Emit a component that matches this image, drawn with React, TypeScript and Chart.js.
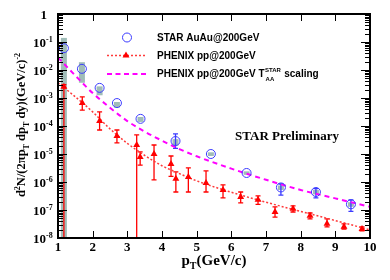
import React, { useEffect, useRef } from "react";
import { Chart, registerables } from "chart.js";
Chart.register(...registerables);

// ---------- STAR AuAu@200GeV ----------
const starPt = [1.17, 1.69, 2.2, 2.7, 3.38, 4.39, 5.41, 6.44, 7.43, 8.44, 9.45];
const starVal = [0.06, 0.011, 2.3e-3, 6.6e-4, 1.8e-4, 2.9e-5, 1e-5, 2.1e-6, 6.4e-7, 4.4e-7, 1.6e-7];
const starSysHigh = [0.14, 0.019, 2.6e-3, 7.2e-4, 2.1e-4, 3.4e-5, 1.15e-5, 2.4e-6, 7.5e-7, 5.2e-7, 1.9e-7];
const starSysLow = [1e-8, 3.5e-3, 1.25e-3, 4.6e-4, 1.4e-4, 2.0e-5, 8.5e-6, 1.8e-6, 5.2e-7, 3.6e-7, 1.3e-7];
const starStatHigh = [0.06, 0.011, 2.3e-3, 6.6e-4, 1.8e-4, 5.2e-5, 1e-5, 2.1e-6, 8.5e-7, 5.8e-7, 2.3e-7];
const starStatLow = [0.06, 0.011, 2.3e-3, 6.6e-4, 1.8e-4, 1.6e-5, 1e-5, 2.1e-6, 3.4e-7, 2.7e-7, 9e-8];

// ---------- PHENIX pp@200GeV ----------
const phxPt = [1.17, 1.7, 2.2, 2.7, 3.27, 3.37, 3.77, 4.26, 4.4, 4.76, 5.27, 5.76, 6.27, 6.77, 7.26, 7.78, 8.27, 8.76, 9.25, 9.77];
const phxVal = [2.5e-3, 6.6e-4, 1.5e-4, 4.4e-5, 2.1e-5, 7.8e-6, 1e-5, 4.4e-6, 1.3e-6, 1.5e-6, 9.3e-7, 5.2e-7, 2.9e-7, 2.3e-7, 8.5e-8, 1.1e-7, 6.2e-8, 3.2e-8, 2.5e-8, 2.1e-8];
const phxHigh = [3e-3, 1.1e-3, 3.2e-4, 7.2e-5, 4.8e-5, 1.2e-5, 2.1e-5, 8.5e-6, 2.3e-6, 3.2e-6, 2.5e-6, 7.9e-7, 4.4e-7, 3.2e-7, 1.3e-7, 1.4e-7, 7.8e-8, 4.8e-8, 3.2e-8, 2.5e-8];
const phxLow = [1e-8, 3.7e-4, 7.2e-5, 2.5e-5, 1e-8, 4e-6, 1.2e-6, 1.6e-6, 4.4e-7, 4.4e-7, 4.4e-7, 2.7e-7, 1.8e-7, 1.6e-7, 5.6e-8, 8.5e-8, 4.8e-8, 2.5e-8, 2.1e-8, 1.8e-8];

// ---------- fit curves ----------
const fitX = [1, 1.5, 2, 2.5, 3, 3.5, 4, 4.5, 5, 6, 7, 8, 9, 10];
const phxFit = [3.5e-3, 1.1e-3, 3.2e-4, 7.9e-5, 2.4e-5, 8.9e-6, 3.8e-6, 2.0e-6, 1.1e-6, 4.3e-7, 1.9e-7, 8.9e-8, 4.2e-8, 1.95e-8];
const taaFit = [2.8e-2, 6.3e-3, 1.5e-3, 4.5e-4, 1.5e-4, 6.3e-5, 3.0e-5, 1.5e-5, 8.3e-6, 3.0e-6, 1.2e-6, 5.2e-7, 2.6e-7, 1.3e-7];

// ---------- axes ----------
const xTicks = [1, 2, 3, 4, 5, 6, 7, 8, 9, 10];
const yTickValues = [1, 1e-1, 1e-2, 1e-3, 1e-4, 1e-5, 1e-6, 1e-7, 1e-8];
const yTickBase = ["1", "10", "10", "10", "10", "10", "10", "10", "10"];
const yTickExp = ["", "-1", "-2", "-3", "-4", "-5", "-6", "-7", "-8"];
const legendLabels = ["STAR AuAu@200GeV", "PHENIX pp@200GeV", "PHENIX pp@200GeV T"];

const SERIF = "'Liberation Serif', 'Times New Roman', serif";
const SANS = "'Liberation Sans', Arial, Helvetica, sans-serif";
const BLUE = "#3b3bff";
const RED = "#ff0000";
const REDFIT = "#ff3a3a";
const MAGENTA = "#ff00ff";
const GRAY = "rgba(150,182,176,0.9)";

type Part = [string, number, number, string?];

function drawParts(ctx: CanvasRenderingContext2D, parts: Part[], x: number, y: number, align: string) {
  let total = 0;
  const widths: number[] = [];
  for (const p of parts) {
    ctx.font = `bold ${p[1]}px ${p[3] || SERIF}`;
    const w = ctx.measureText(p[0]).width;
    widths.push(w);
    total += w;
  }
  let cx = align === "center" ? x - total / 2 : align === "right" ? x - total : x;
  ctx.textAlign = "left";
  ctx.textBaseline = "alphabetic";
  parts.forEach((p, i) => {
    ctx.font = `bold ${p[1]}px ${p[3] || SERIF}`;
    ctx.fillText(p[0], cx, y + p[2]);
    cx += widths[i];
  });
}

const decorPlugin = {
  id: "decor",
  beforeDatasetsDraw(chart: any) {
    const { ctx, chartArea: a } = chart;
    const xs = chart.scales.x;
    const ys = chart.scales.y;
    ctx.save();
    ctx.beginPath();
    ctx.rect(a.left, a.top, a.right - a.left, a.bottom - a.top);
    ctx.clip();
    ctx.fillStyle = GRAY;
    starPt.forEach((p, i) => {
      const X = xs.getPixelForValue(p);
      const y1 = ys.getPixelForValue(starSysHigh[i]);
      const y2 = ys.getPixelForValue(starSysLow[i]);
      ctx.fillRect(X - 3, y1, 6, y2 - y1);
    });
    const bar = (X: number, y1: number, y2: number, color: string, w: number) => {
      if (Math.abs(y2 - y1) < 0.5) return;
      ctx.strokeStyle = color;
      ctx.lineWidth = w;
      ctx.beginPath();
      ctx.moveTo(X, y1);
      ctx.lineTo(X, y2);
      ctx.moveTo(X - 2.5, y1);
      ctx.lineTo(X + 2.5, y1);
      ctx.moveTo(X - 2.5, y2);
      ctx.lineTo(X + 2.5, y2);
      ctx.stroke();
    };
    starPt.forEach((p, i) => {
      bar(xs.getPixelForValue(p), ys.getPixelForValue(starStatHigh[i]), ys.getPixelForValue(starStatLow[i]), BLUE, 1.3);
    });
    phxPt.forEach((p, i) => {
      bar(xs.getPixelForValue(p), ys.getPixelForValue(phxHigh[i]), ys.getPixelForValue(phxLow[i]), RED, 1.3);
    });
    ctx.restore();
  },
  afterDraw(chart: any) {
    const { ctx, chartArea: a } = chart;
    const xs = chart.scales.x;
    const ys = chart.scales.y;
    ctx.save();
    ctx.fillStyle = "#000";
    ctx.strokeStyle = "#000";
    ctx.lineWidth = 1;
    ctx.beginPath();
    xTicks.forEach((t) => {
      const X = Math.round(xs.getPixelForValue(t)) + 0.5;
      ctx.moveTo(X, a.bottom);
      ctx.lineTo(X, a.bottom - 7);
      ctx.moveTo(X, a.top);
      ctx.lineTo(X, a.top + 7);
    });
    yTickValues.forEach((v, i) => {
      const Y = Math.round(ys.getPixelForValue(v)) + 0.5;
      ctx.moveTo(a.left, Y);
      ctx.lineTo(a.left + 9, Y);
      ctx.moveTo(a.right, Y);
      ctx.lineTo(a.right - 9, Y);
      if (i < yTickValues.length - 1) {
        for (let k = 2; k <= 9; k++) {
          const Ym = Math.round(ys.getPixelForValue(yTickValues[i + 1] * k)) + 0.5;
          ctx.moveTo(a.left, Ym);
          ctx.lineTo(a.left + 5, Ym);
          ctx.moveTo(a.right, Ym);
          ctx.lineTo(a.right - 5, Ym);
        }
      }
    });
    ctx.stroke();
    ctx.lineWidth = 2;
    ctx.strokeRect(a.left, a.top, a.right - a.left, a.bottom - a.top);

    xTicks.forEach((t) => {
      drawParts(ctx, [[String(t), 13, 0]], xs.getPixelForValue(t), a.bottom + 13, "center");
    });
    yTickValues.forEach((v, i) => {
      const Y = ys.getPixelForValue(v);
      if (yTickExp[i] === "") {
        drawParts(ctx, [[yTickBase[i], 13, 0]], 47, Y + 5, "right");
      } else {
        drawParts(ctx, [[yTickBase[i], 13, 0], [yTickExp[i], 8, -5]], 33, Y + 5, "left");
      }
    });
    drawParts(ctx, [["p", 15, 0], ["T", 10, 4], ["(GeV/c)", 15, 0]], 214, a.bottom + 27, "center");
    ctx.save();
    ctx.translate(25, (a.top + a.bottom) / 2 - 1);
    ctx.rotate(-Math.PI / 2);
    drawParts(
      ctx,
      [
        ["d", 12.5, 0],
        ["2", 8, -5],
        ["N/(2\u03c0p", 12.5, 0],
        ["T", 8, 3.5],
        [" dp", 12.5, 0],
        ["T", 8, 3.5],
        [" dy)(GeV/c)", 12.5, 0],
        ["-2", 8, -5],
      ],
      0,
      0,
      "center"
    );
    ctx.restore();

    drawParts(ctx, [["STAR Preliminary", 13, 0]], 287, 140, "center");

    // legend
    ctx.strokeStyle = BLUE;
    ctx.lineWidth = 1;
    ctx.beginPath();
    ctx.arc(127, 37.5, 4.5, 0, Math.PI * 2);
    ctx.stroke();
    ctx.strokeStyle = REDFIT;
    ctx.lineWidth = 1.4;
    ctx.setLineDash([2, 2]);
    ctx.beginPath();
    ctx.moveTo(107, 55.5);
    ctx.lineTo(146, 55.5);
    ctx.stroke();
    ctx.setLineDash([]);
    ctx.fillStyle = RED;
    ctx.beginPath();
    ctx.moveTo(126, 51.5);
    ctx.lineTo(129.5, 57.5);
    ctx.lineTo(122.5, 57.5);
    ctx.closePath();
    ctx.fill();
    ctx.strokeStyle = MAGENTA;
    ctx.lineWidth = 2;
    ctx.setLineDash([5, 3.5]);
    ctx.beginPath();
    ctx.moveTo(107, 74);
    ctx.lineTo(147, 74);
    ctx.stroke();
    ctx.setLineDash([]);
    ctx.fillStyle = "#000";
    drawParts(ctx, [[legendLabels[0], 10, 0, SANS]], 157, 41, "left");
    drawParts(ctx, [[legendLabels[1], 10, 0, SANS]], 157, 59, "left");
    ctx.font = `bold 10px ${SANS}`;
    const w3 = ctx.measureText(legendLabels[2]).width;
    drawParts(ctx, [[legendLabels[2], 10, 0, SANS]], 157, 77, "left");
    drawParts(ctx, [["STAR", 6, -5, SANS]], 157 + w3 + 0.5, 77, "left");
    drawParts(ctx, [["AA", 6, 4, SANS]], 157 + w3 + 1, 77, "left");
    ctx.font = `bold 6px ${SANS}`;
    const wS = ctx.measureText("STAR").width;
    drawParts(ctx, [[" scaling", 10, 0, SANS]], 157 + w3 + wS + 1, 77, "left");
    ctx.restore();
  },
};

export default function App() {
  const ref = useRef<HTMLCanvasElement | null>(null);
  useEffect(() => {
    if (!ref.current) return;
    const chart = new Chart(ref.current, {
      type: "scatter",
      data: {
        datasets: [
          {
            label: "STAR AuAu@200GeV",
            data: starPt.map((x, i) => ({ x, y: starVal[i] })),
            pointStyle: "circle",
            pointRadius: 4.5,
            borderWidth: 1,
            borderColor: BLUE,
            backgroundColor: "rgba(0,0,0,0)",
            showLine: false,
            order: 1,
          },
          {
            label: "PHENIX pp@200GeV",
            data: phxPt.map((x, i) => ({ x, y: phxVal[i] })),
            pointStyle: "triangle",
            pointRadius: 4,
            borderWidth: 0,
            borderColor: RED,
            backgroundColor: RED,
            showLine: false,
            order: 2,
          },
          {
            label: "PHENIX fit",
            data: fitX.map((x, i) => ({ x, y: phxFit[i] })),
            showLine: true,
            pointRadius: 0,
            borderColor: REDFIT,
            backgroundColor: REDFIT,
            borderWidth: 1.5,
            borderDash: [2, 2],
            cubicInterpolationMode: "monotone",
            order: 3,
          },
          {
            label: "TAA scaling",
            data: fitX.map((x, i) => ({ x, y: taaFit[i] })),
            showLine: true,
            pointRadius: 0,
            borderColor: MAGENTA,
            backgroundColor: MAGENTA,
            borderWidth: 2,
            borderDash: [5, 4],
            cubicInterpolationMode: "monotone",
            order: 4,
          },
        ],
      },
      options: {
        responsive: false,
        animation: false,
        layout: { padding: { left: 58, right: 20, top: 14, bottom: 42 } },
        plugins: { legend: { display: false }, tooltip: { enabled: false } },
        scales: {
          x: { type: "linear", min: 1, max: 10, display: false },
          y: { type: "logarithmic", min: 1e-8, max: 1, display: false },
        },
      },
      plugins: [decorPlugin],
    } as any);
    return () => chart.destroy();
  }, []);
  return (
    <div style={{ position: "absolute", left: 0, top: 0, width: 390, height: 280, background: "#fff" }}>
      <canvas ref={ref} width={390} height={280} />
    </div>
  );
}
